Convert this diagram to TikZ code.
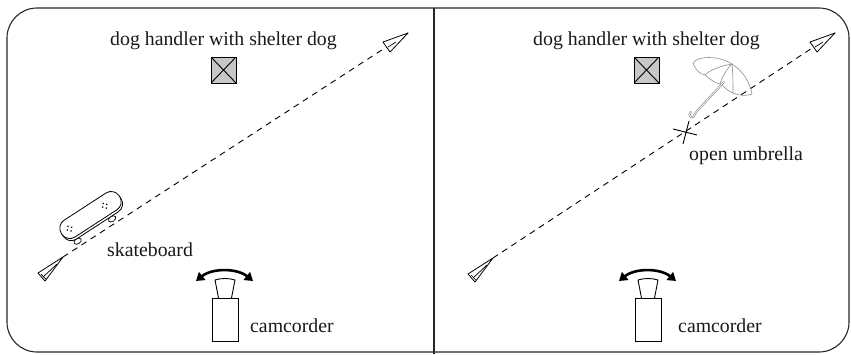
\documentclass[tikz,border=0pt]{standalone}
\usepackage{fontspec}
\setmainfont{Liberation Serif}
\usetikzlibrary{arrows.meta}
\begin{document}
\begin{tikzpicture}[x=1pt,y=-1pt,
  lbl/.style={font=\fontsize{19.8pt}{23pt}\selectfont, inner sep=0pt, anchor=base west, text=black!90},
  dogbox/.style={draw, fill=black!22, line width=0.9pt, minimum width=25pt, minimum height=26pt, inner sep=0pt,
    path picture={\draw[line width=0.9pt] (path picture bounding box.north west) -- (path picture bounding box.south east)
      (path picture bounding box.north east) -- (path picture bounding box.south west);}},
  track/.style={dash pattern=on 6pt off 5pt, line width=0.9pt},
  dartline/.style={draw, fill=white, line width=0.8pt, line join=round},
  cambody/.style={draw, line width=0.9pt, minimum width=26pt, minimum height=43pt, inner sep=0pt},
  lensline/.style={draw, line width=0.9pt, line join=round},
  swing/.style={line width=2.6pt, {Triangle[length=8pt,width=10pt]}-{Triangle[length=8pt,width=10pt]}},
  panelframe/.style={line width=1.1pt, draw=black!85},
  brolly/.style={draw=black!45, line width=0.6pt, line join=round},
  deck/.style={draw, fill=white, line width=0.8pt, rounded corners=9.5pt},
  wheel/.style={draw, fill=white, line width=0.7pt},
  leaddart/.pic={
    \draw[dartline] (0,0) -- (-25,16) -- (-18,24) -- cycle;
    \draw[line width=0.7pt] (-20,20) -- (-6,7);
    \draw[line width=0.7pt] (-22,17) -- (-17,22);
  },
  taildart/.pic={
    \draw[dartline] (0,0) -- (-25,9) -- (-18,19) -- cycle;
    \draw[line width=0.7pt] (-20,14) -- (-12,9);
  },
]
\useasboundingbox (0,0) rectangle (851,354);

% outer frame and the divider between the two set-ups
\draw[panelframe, rounded corners=30pt] (7,8) rectangle (849,352);
\draw[panelframe] (434,8) -- (434,354);

% ---------- left set-up: skateboard ----------
\node[lbl] (dogtextL) at (110,45) {dog handler with shelter dog};
\node[dogbox] (dogL) at (223.5,70) {};

\coordinate (startL) at (63,257);
\coordinate (endL) at (408,33);
\draw[track] (startL) -- (endL);
\pic at (startL) {leaddart};
\pic at (endL) {taildart};

% skateboard, drawn along its own axis
\begin{scope}[shift={(90.5,215)}, rotate=33]
  \draw[wheel] (-25,15) ellipse [x radius=4, y radius=2.6];
  \draw[wheel] (16,15) ellipse [x radius=4, y radius=2.6];
  \draw[deck] (-34.5,-8) rectangle (34.5,12.5);
  \draw[deck] (-34.5,-10) rectangle (34.5,10);
  \foreach \c in {-25,17}{
    \fill (\c-2.5,0) circle (0.9) (\c+2.5,0) circle (0.9)
          (\c,-2.8) circle (0.9) (\c,2.8) circle (0.9);
  }
\end{scope}
\node[lbl] (skatetext) at (107,256.5) {skateboard};

% camcorder with its pan arrow
\draw[swing] (196,281) .. controls (212,268) and (237,268) .. (253,281);
\draw[lensline] (218.5,298) -- (215,280) .. controls (221,278) and (229,278) .. (235,280) -- (231.5,298);
\node[cambody] (camL) at (225,319.5) {};
\node[lbl] (camtextL) at (250,332) {camcorder};

% ---------- right set-up: umbrella ----------
\node[lbl] (dogtextR) at (533,45) {dog handler with shelter dog};
\node[dogbox] (dogR) at (646.5,70) {};

\coordinate (startR) at (493,258);
\coordinate (endR) at (835,33);
\draw[track] (startR) -- (endR);
\pic at (startR) {leaddart};
\pic at (endR) {taildart};

% open umbrella seen from the side
\begin{scope}
  \draw[brolly] (693,63) .. controls (697,56) and (718,55) .. (732,64)
                .. controls (742,70) and (750,82) .. (752,94);
  \draw[brolly] (693,63) .. controls (696,71) and (700,74) .. (705,75)
                .. controls (711,80) and (715,83) .. (720,84)
                .. controls (726,88) and (729,92) .. (733,93)
                .. controls (740,96) and (747,96) .. (752,94);
  \draw[brolly] (732,64) .. controls (720,66) and (710,70) .. (705,75);
  \draw[brolly] (732,64) .. controls (726,70) and (722,77) .. (720,84);
  \draw[brolly] (732,64) .. controls (733,74) and (733,84) .. (733,93);
  \draw[black!45, line width=2pt, line cap=round] (724,82) -- (697,111)
        .. controls (694,115) and (694,118) .. (691,117) .. controls (689,116) and (689,113) .. (691,112);
  \draw[white, line width=0.7pt, line cap=round] (724,82) -- (697,111)
        .. controls (694,115) and (694,118) .. (691,117) .. controls (689,116) and (689,113) .. (691,112);
\end{scope}

% where the umbrella opens
\coordinate (openpt) at (685,132);
\draw[line width=0.9pt] (673,129) -- (697,135) (689,121) -- (683,144);
\node[lbl] (umbtext) at (689,160.5) {open umbrella};

% camcorder with its pan arrow
\draw[swing] (619,281) .. controls (635,268) and (660,268) .. (676,281);
\draw[lensline] (641.5,298) -- (638,280) .. controls (644,278) and (652,278) .. (658,280) -- (654.5,298);
\node[cambody] (camR) at (648,320) {};
\node[lbl] (camtextR) at (678,332) {camcorder};
\end{tikzpicture}
\end{document}
